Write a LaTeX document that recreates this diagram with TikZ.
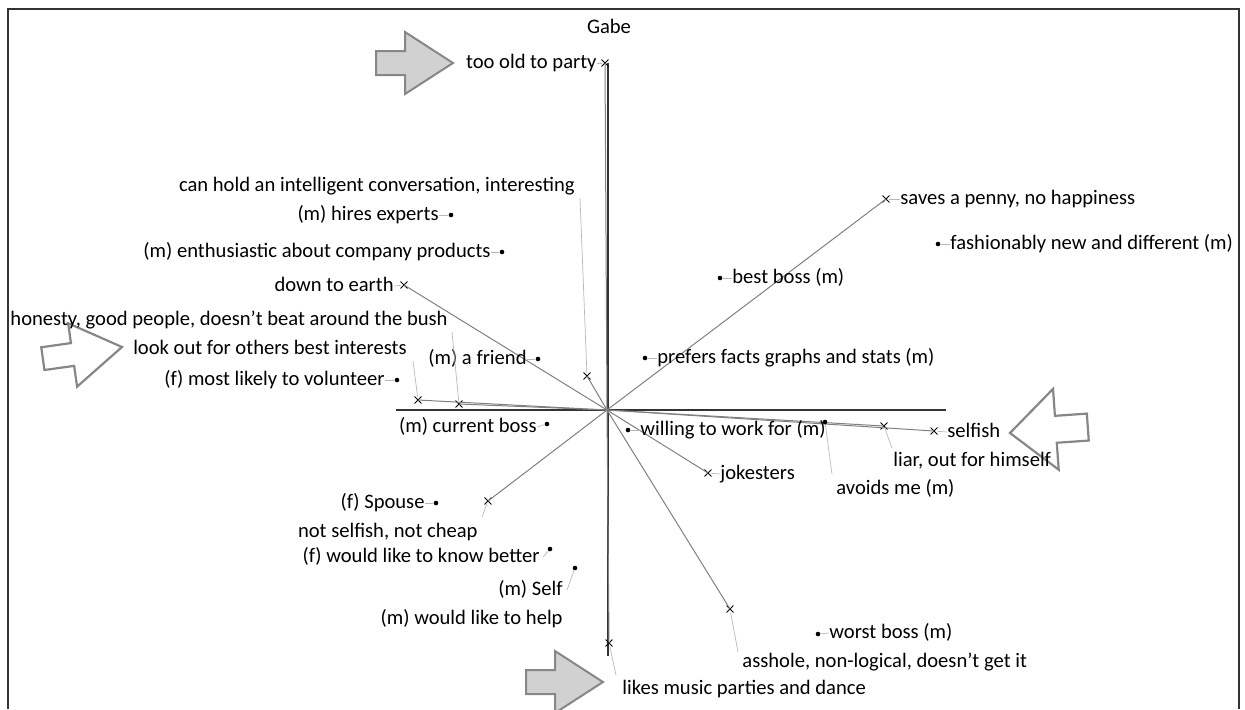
\documentclass[tikz,border=0pt]{standalone}
\usepackage{fontspec}
\setmainfont{Carlito}
\usetikzlibrary{shapes.misc}
\begin{document}
\begin{tikzpicture}[x=0.5pt,y=-0.5pt,
  lbl/.style={inner sep=0pt,font=\fontsize{10.3}{12}\selectfont,text height=0.75em,text depth=0.22em},
  xm/.style={draw,cross out,minimum size=3pt,inner sep=0pt,line width=0.45pt},
  dm/.style={circle,fill=black,minimum size=2.3pt,inner sep=0pt},
  axisline/.style={draw=black!80,line width=0.8pt},
  conn/.style={draw=black!50,line width=0.5pt},
  leader/.style={draw=black!28,line width=0.35pt},
  fillarrow/.style={fill=black!18,draw=black!47,line width=1pt,line join=miter},
  openarrow/.style={fill=white,draw=black!47,line width=1.1pt,line join=miter}]
\useasboundingbox (0,0) rectangle (1245,709);

% frame
\draw[draw=black!80,line width=1pt] (8,709) -- (8,9) -- (1239,9) -- (1239,709);

% block arrows
\draw[fillarrow,shift={(453,63)}] (0,0) -- (-48,-31) -- (-48,-12) -- (-77,-12) -- (-77,12) -- (-48,12) -- (-48,31) -- cycle;
\draw[fillarrow,shift={(603,682)}] (0,0) -- (-48,-31) -- (-48,-12) -- (-77,-12) -- (-77,12) -- (-48,12) -- (-48,31) -- cycle;
\draw[openarrow,shift={(122,347)},rotate=8] (0,0) -- (-50,-31) -- (-50,-11) -- (-80,-11) -- (-80,12) -- (-50,12) -- (-50,33) -- cycle;
\draw[openarrow,shift={(1010,433)},rotate=184] (0,0) -- (-46,-40) -- (-46,-13) -- (-78,-13) -- (-78,14) -- (-46,14) -- (-46,41) -- cycle;

% axes
\coordinate (O) at (607,410);
\coordinate (vt) at (608,63);
\coordinate (vb) at (608,656);
\coordinate (hl) at (396,410);
\coordinate (hr) at (946,410);
\draw[axisline] (vt) -- (vb);
\draw[axisline] (hl) -- (hr);

\node[lbl] (gabe) at (609,28) {Gabe};

% crossed points with their lines to the centre
\node[xm] (pold) at (605,63) {};
\node[xm] (psaves) at (886,199) {};
\node[xm] (pearth) at (404,285) {};
\node[xm] (pconv) at (587,376) {};
\node[xm] (plook) at (418,400) {};
\node[xm] (phonest) at (459,404) {};
\node[xm] (pliar) at (884,426) {};
\node[xm] (pselfish) at (934,431) {};
\node[xm] (pjoke) at (708,473) {};
\node[xm] (pcheap) at (488,501) {};
\node[xm] (pass) at (730,609) {};
\node[xm] (pmusic) at (609,643) {};
\foreach \p in {pold,psaves,pearth,pconv,plook,phonest,pliar,pselfish,pjoke,pcheap,pass,pmusic}
  \draw[conn] (O) -- (\p.center);

% dotted points
\node[dm] (dhires) at (451,215) {};
\node[dm] (denth) at (502,252) {};
\node[dm] (dfriend) at (538,359) {};
\node[dm] (dvol) at (397,380) {};
\node[dm] (dcur) at (547,424) {};
\node[dm] (dwill) at (628,430) {};
\node[dm] (davoid) at (825,422) {};
\node[dm] (dbest) at (720,278) {};
\node[dm] (dfacts) at (645,358) {};
\node[dm] (dfash) at (938,244) {};
\node[dm] (dworst) at (818,634) {};
\node[dm] (dspouse) at (436,503) {};
\node[dm] (dknow) at (550,549) {};
\node[dm] (dself) at (575,568) {};

% labels
\node[lbl,anchor=east] (lold) at (597,63) {too old to party};
\node[lbl,anchor=west] (lsaves) at (900,199) {saves a penny, no happiness};
\node[lbl,anchor=east] (learth) at (394,286) {down to earth};
\node[lbl,anchor=east] (lconv) at (575,186) {can hold an intelligent conversation, interesting};
\node[lbl,anchor=east] (llook) at (407,349) {look out for others best interests};
\node[lbl,anchor=east] (lhonest) at (448,320) {honesty, good people, doesn't beat around the bush};
\node[lbl,anchor=west] (lliar) at (893,461) {liar, out for himself};
\node[lbl,anchor=west] (lselfish) at (947,432) {selfish};
\node[lbl,anchor=west] (ljoke) at (720,474) {jokesters};
\node[lbl,anchor=east] (lcheap) at (478,532) {not selfish, not cheap};
\node[lbl,anchor=west] (lass) at (742,662) {asshole, non-logical, doesn't get it};
\node[lbl,anchor=west] (lmusic) at (622,689) {likes music parties and dance};

\node[lbl,anchor=east] (lhires) at (439,215) {(m) hires experts};
\node[lbl,anchor=east] (lenth) at (491,252) {(m) enthusiastic about company products};
\node[lbl,anchor=east] (lfriend) at (527,359) {(m) a friend};
\node[lbl,anchor=east] (lvol) at (385,380) {(f) most likely to volunteer};
\node[lbl,anchor=east] (lcur) at (537,427) {(m) current boss};
\node[lbl,anchor=west] (lwill) at (640,430) {willing to work for (m)};
\node[lbl,anchor=west] (lavoid) at (836,489) {avoids me (m)};
\node[lbl,anchor=west] (lbest) at (732,278) {best boss (m)};
\node[lbl,anchor=west] (lfacts) at (657,358) {prefers facts graphs and stats (m)};
\node[lbl,anchor=west] (lfash) at (950,244) {fashionably new and different (m)};
\node[lbl,anchor=west] (lworst) at (829,633) {worst boss (m)};
\node[lbl,anchor=east] (lspouse) at (425,503) {(f) Spouse};
\node[lbl,anchor=east] (lknow) at (540,557) {(f) would like to know better};
\node[lbl,anchor=east] (lself) at (563,590) {(m) Self};
\node[lbl,anchor=east] (lhelp) at (563,619) {(m) would like to help};

% leader lines from points to labels
\coordinate (econv) at (580,198);
\coordinate (elook) at (413,361);
\coordinate (ehonest) at (452,332);
\coordinate (eliar) at (892,448);
\coordinate (echeap) at (482,517);
\coordinate (eass) at (738,652);
\coordinate (emusic) at (616,675);
\coordinate (eavoid) at (832,474);
\coordinate (eknow) at (543,557);
\coordinate (eself) at (567,590);
\draw[leader] (pconv) -- (econv);
\draw[leader] (plook) -- (elook);
\draw[leader] (phonest) -- (ehonest);
\draw[leader] (pliar) -- (eliar);
\draw[leader] (pcheap) -- (echeap);
\draw[leader] (pass) -- (eass);
\draw[leader] (pmusic) -- (emusic);
\draw[leader] (davoid) -- (eavoid);
\draw[leader] (dknow) -- (eknow);
\draw[leader] (dself) -- (eself);
\draw[leader] (lold.east) -- (pold);
\draw[leader] (lsaves.west) -- (psaves);
\draw[leader] (learth.east) -- (pearth);
\draw[leader] (lselfish.west) -- (pselfish);
\draw[leader] (ljoke.west) -- (pjoke);
\draw[leader] (lhires.east) -- (dhires);
\draw[leader] (lenth.east) -- (denth);
\draw[leader] (lfriend.east) -- (dfriend);
\draw[leader] (lvol.east) -- (dvol);
\draw[leader] (lcur.east) -- (dcur);
\draw[leader] (lwill.west) -- (dwill);
\draw[leader] (lbest.west) -- (dbest);
\draw[leader] (lfacts.west) -- (dfacts);
\draw[leader] (lfash.west) -- (dfash);
\draw[leader] (lworst.west) -- (dworst);
\draw[leader] (lspouse.east) -- (dspouse);
\end{tikzpicture}
\end{document}
